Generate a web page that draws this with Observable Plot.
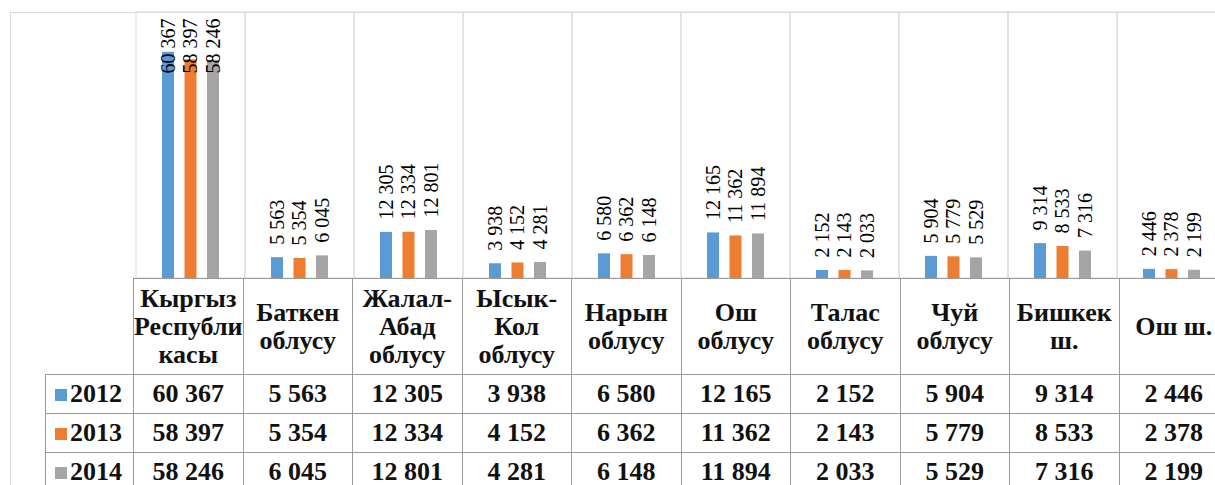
<!DOCTYPE html>
<html>
<head>
<meta charset="utf-8">
<script src="https://cdn.jsdelivr.net/npm/d3@7"></script>
<script src="https://cdn.jsdelivr.net/npm/@observablehq/plot@0.6"></script>
<style>
  html, body { margin: 0; padding: 0; background: #fff; overflow: hidden; }
  #wrap { position: relative; width: 1215px; height: 485px; overflow: hidden; background: #fff; }
  #frame { position: absolute; left: 10px; top: 12px; width: 1400px; height: 600px;
           border-left: 1px solid #d9d9d9; border-top: 1px solid #d9d9d9; }
  #chart { position: absolute; left: 0; top: 0; }
  #tbl { position: absolute; left: 45px; top: 278px; border-collapse: collapse; table-layout: fixed;
         font-family: "Liberation Serif", "Times New Roman", Tinos, Times, "Noto Serif", "DejaVu Serif", serif;
         font-weight: bold; font-size: 26px; color: #111; }
  #tbl td { border: 1px solid #9a9a9a; padding: 0; text-align: center; white-space: nowrap; overflow: visible; }
  #tbl tr.hd td { height: 95px; line-height: 28px; }
  #tbl tr.vr td { height: 38px; line-height: 38px; }
  #tbl td.blank { border: none; }
  #tbl td.lg { text-align: left; padding-left: 9px; }
  .sw { display: inline-block; width: 12px; height: 12px; margin-right: 3px; vertical-align: 1px; }
  #chart svg text { font-family: "Liberation Serif", "Times New Roman", Tinos, Times, "Noto Serif", "DejaVu Serif", serif; }
</style>
</head>
<body>
<div id="wrap">
  <div id="frame"></div>
  <div id="chart"></div>
  <table id="tbl"></table>
</div>
<script>
// ---- data ----
const categories = ["Кыргыз\nРеспубли\nкасы", "Баткен\nоблусу", "Жалал-\nАбад\nоблусу", "Ысык-\nКол\nоблусу", "Нарын\nоблусу", "Ош\nоблусу", "Талас\nоблусу", "Чуй\nоблусу", "Бишкек\nш.", "Ош ш."];
const years = ["2012", "2013", "2014"];
const v2012 = [60367, 5563, 12305, 3938, 6580, 12165, 2152, 5904, 9314, 2446];
const v2013 = [58397, 5354, 12334, 4152, 6362, 11362, 2143, 5779, 8533, 2378];
const v2014 = [58246, 6045, 12801, 4281, 6148, 11894, 2033, 5529, 7316, 2199];
const colors = ["#5B9BD5", "#ED7D31", "#A5A5A5"];

// ---- layout ----
const W = 1215, plotLeft = 133, step = 109.5, baseY = 278, topY = 12;
const yMax = 71000, barW = 12.5, gap = 22.5, legendW = 88;
const serif = "'Liberation Serif', 'Times New Roman', Tinos, Times, 'Noto Serif', 'DejaVu Serif', serif";

const series = [v2012, v2013, v2014];
const fmt = d3.formatLocale({decimal: ",", thousands: "\u00a0", grouping: [3], currency: ["", ""]}).format(",d");

const marks = [
  Plot.cell(categories, {x: d => d, stroke: "#d9d9d9", fill: "none", inset: 0})
];
years.forEach((yr, j) => {
  const rows = categories.map((c, i) => ({cat: c, year: yr, value: series[j][i]}));
  const off = (j - 1) * gap;
  const ins = (step - barW) / 2;
  marks.push(Plot.barY(rows, {x: "cat", y: "value", fill: "year", dx: off, insetLeft: ins, insetRight: ins}));
  const fits = rows.filter(d => d.value < yMax * 0.8);
  const tall = rows.filter(d => d.value >= yMax * 0.8);
  marks.push(Plot.text(fits, {x: "cat", y: "value", text: d => fmt(d.value), rotate: -90, textAnchor: "start",
    lineAnchor: "middle", dx: off, dy: -13, fontSize: 20, fontFamily: serif, fill: "#000"}));
  marks.push(Plot.text(tall, {x: "cat", frameAnchor: "top", text: d => fmt(d.value), rotate: -90, textAnchor: "end",
    lineAnchor: "middle", dx: off, dy: 6, fontSize: 20, fontFamily: serif, fill: "#000"}));
});
marks.push(Plot.ruleY([0], {stroke: "#a6a6a6"}));

const chart = Plot.plot({
  width: W,
  height: baseY + 1,
  marginLeft: plotLeft, marginRight: 0, marginTop: topY, marginBottom: 1,
  x: {domain: categories, range: [plotLeft, plotLeft + step * categories.length], padding: 0, axis: null},
  y: {domain: [0, yMax], axis: null},
  color: {domain: years, range: colors},
  style: {fontFamily: serif, background: "transparent", maxWidth: "none", overflow: "hidden"},
  marks
});
document.getElementById("chart").appendChild(chart);

// ---- data table ----
const tbl = document.getElementById("tbl");
tbl.style.width = (legendW + step * categories.length) + "px";
let html = `<colgroup><col style="width:${legendW}px">` + categories.map(() => `<col style="width:${step}px">`).join("") + `</colgroup>`;
html += `<tr class="hd"><td class="blank"></td>` + categories.map(c => `<td>${c.replace(/\n/g, "<br>")}</td>`).join("") + `</tr>`;
years.forEach((yr, j) => {
  html += `<tr class="vr"><td class="lg"><span class="sw" style="background:${colors[j]}"></span>${yr}</td>` +
    series[j].map(v => `<td>${fmt(v)}</td>`).join("") + `</tr>`;
});
tbl.innerHTML = html;
</script>
</body>
</html>
